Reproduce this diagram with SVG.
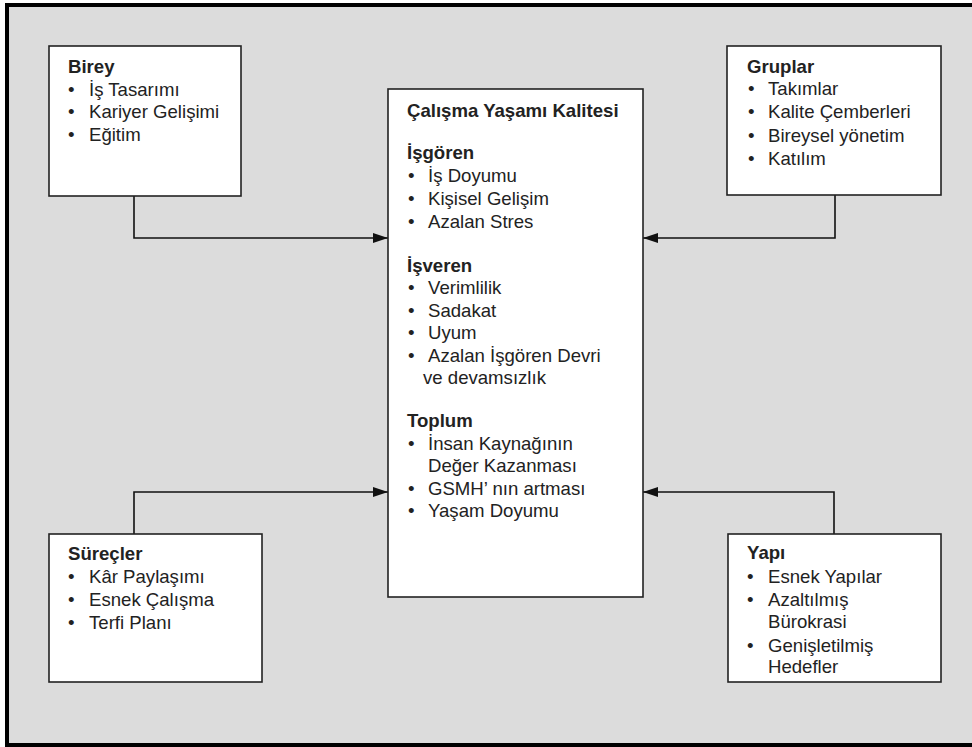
<svg xmlns="http://www.w3.org/2000/svg" width="972" height="747" viewBox="0 0 972 747">
<defs>
<style>
.box{fill:#fff;stroke:#222;stroke-width:1.6}
text{font-family:"Liberation Sans",Arial,sans-serif;font-size:18.6px;fill:#222}
.h{font-weight:bold}
.con{fill:none;stroke:#111;stroke-width:1.6}
</style>
<marker id="ah" viewBox="0 0 15 10" refX="15" refY="5" markerWidth="15" markerHeight="10" markerUnits="userSpaceOnUse" orient="auto">
<path d="M0,0 L15,5 L0,10 Z" fill="#111"/>
</marker>
</defs>
<rect x="7" y="5" width="980" height="740" fill="#dcdcdc" stroke="#000" stroke-width="4"/>
<g id="connectors">
<path class="con" d="M134,196 V238 H388" marker-end="url(#ah)"/>
<path class="con" d="M835,195 V238 H643" marker-end="url(#ah)"/>
<path class="con" d="M134,534 V492 H388" marker-end="url(#ah)"/>
<path class="con" d="M834,534 V492 H643" marker-end="url(#ah)"/>
</g>
<g id="birey">
<rect class="box" x="49" y="46" width="192" height="150"/>
<text class="h" x="68" y="73">Birey</text>
<text x="68" y="96">•</text><text x="89" y="96">İş Tasarımı</text>
<text x="68" y="118">•</text><text x="89" y="118">Kariyer Gelişimi</text>
<text x="68" y="141">•</text><text x="89" y="141">Eğitim</text>
</g>
<g id="gruplar">
<rect class="box" x="727" y="46" width="214" height="149"/>
<text class="h" x="747" y="73">Gruplar</text>
<text x="748" y="95">•</text><text x="768" y="95">Takımlar</text>
<text x="748" y="118">•</text><text x="768" y="118">Kalite Çemberleri</text>
<text x="748" y="142">•</text><text x="768" y="142">Bireysel yönetim</text>
<text x="748" y="165">•</text><text x="768" y="165">Katılım</text>
</g>
<g id="calisma">
<rect class="box" x="388" y="89" width="255" height="508"/>
<text class="h" x="407" y="117">Çalışma Yaşamı Kalitesi</text>
<text class="h" x="407" y="159">İşgören</text>
<text x="408" y="182">•</text><text x="428" y="182">İş Doyumu</text>
<text x="408" y="205">•</text><text x="428" y="205">Kişisel Gelişim</text>
<text x="408" y="228">•</text><text x="428" y="228">Azalan Stres</text>
<text class="h" x="407" y="272">İşveren</text>
<text x="408" y="294">•</text><text x="428" y="294">Verimlilik</text>
<text x="408" y="317">•</text><text x="428" y="317">Sadakat</text>
<text x="408" y="339">•</text><text x="428" y="339">Uyum</text>
<text x="408" y="362">•</text><text x="428" y="362">Azalan İşgören Devri</text>
<text x="423" y="384">ve devamsızlık</text>
<text class="h" x="407" y="427">Toplum</text>
<text x="408" y="450">•</text><text x="428" y="450">İnsan Kaynağının</text>
<text x="428" y="472">Değer Kazanması</text>
<text x="408" y="495">•</text><text x="428" y="495">GSMH’ nın artması</text>
<text x="408" y="517">•</text><text x="428" y="517">Yaşam Doyumu</text>
</g>
<g id="surecler">
<rect class="box" x="49" y="534" width="213" height="148"/>
<text class="h" x="68" y="560">Süreçler</text>
<text x="68" y="583">•</text><text x="89" y="583">Kâr Paylaşımı</text>
<text x="68" y="606">•</text><text x="89" y="606">Esnek Çalışma</text>
<text x="68" y="629">•</text><text x="89" y="629">Terfi Planı</text>
</g>
<g id="yapi">
<rect class="box" x="728" y="534" width="213" height="148"/>
<text class="h" x="747" y="559">Yapı</text>
<text x="747" y="583">•</text><text x="768" y="583">Esnek Yapılar</text>
<text x="747" y="606">•</text><text x="768" y="606">Azaltılmış</text>
<text x="768" y="628">Bürokrasi</text>
<text x="747" y="652">•</text><text x="768" y="652">Genişletilmiş</text>
<text x="768" y="673">Hedefler</text>
</g>
</svg>
